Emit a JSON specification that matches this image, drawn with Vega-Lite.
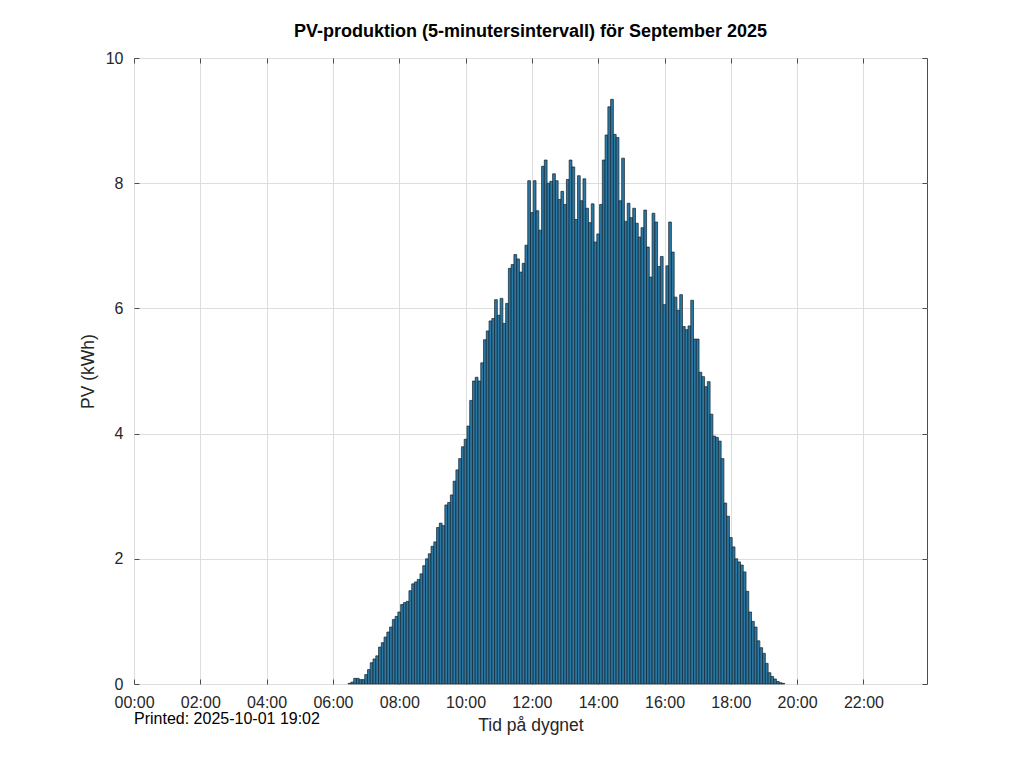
{
  "$schema": "https://vega.github.io/schema/vega-lite/v6.json",
  "width": 793,
  "height": 626,
  "autosize": "none",
  "padding": {"left": 134, "top": 58, "right": 97, "bottom": 84},
  "background": "white",
  "title": {
    "text": "PV-produktion (5-minutersintervall) för September 2025",
    "font": "Liberation Sans",
    "fontSize": 18,
    "fontWeight": "bold",
    "color": "#000000",
    "anchor": "middle",
    "baseline": "alphabetic",
    "offset": -5
  },
  "config": {
    "view": {"stroke": "#4d4d4d", "strokeWidth": 1},
    "font": "Liberation Sans",
    "axis": {
      "domain": false,
      "labelFont": "Liberation Sans",
      "labelFontSize": 16,
      "labelColor": "#262626",
      "titleFont": "Liberation Sans",
      "titleFontSize": 17.5,
      "titleFontWeight": "normal",
      "titleColor": "#262626",
      "tickColor": "#4d4d4d",
      "tickSize": -5,
      "gridColor": "#dedede",
      "gridWidth": 1
    }
  },
  "layer": [
    {
      "data": {
        "values": [
          {"min": 390, "pv": 0.01}, {"min": 395, "pv": 0.03}, {"min": 400, "pv": 0.09}, {"min": 405, "pv": 0.09},
          {"min": 410, "pv": 0.07}, {"min": 415, "pv": 0.07}, {"min": 420, "pv": 0.15}, {"min": 425, "pv": 0.23},
          {"min": 430, "pv": 0.34}, {"min": 435, "pv": 0.40}, {"min": 440, "pv": 0.45}, {"min": 445, "pv": 0.59},
          {"min": 450, "pv": 0.66}, {"min": 455, "pv": 0.75}, {"min": 460, "pv": 0.83}, {"min": 465, "pv": 0.91},
          {"min": 470, "pv": 1.03}, {"min": 475, "pv": 1.08}, {"min": 480, "pv": 1.15}, {"min": 485, "pv": 1.27},
          {"min": 490, "pv": 1.30}, {"min": 495, "pv": 1.32}, {"min": 500, "pv": 1.49}, {"min": 505, "pv": 1.60},
          {"min": 510, "pv": 1.63}, {"min": 515, "pv": 1.67}, {"min": 520, "pv": 1.76}, {"min": 525, "pv": 1.89},
          {"min": 530, "pv": 2.00}, {"min": 535, "pv": 2.08}, {"min": 540, "pv": 2.20}, {"min": 545, "pv": 2.27},
          {"min": 550, "pv": 2.50}, {"min": 555, "pv": 2.57}, {"min": 560, "pv": 2.53}, {"min": 565, "pv": 2.86},
          {"min": 570, "pv": 2.90}, {"min": 575, "pv": 3.02}, {"min": 580, "pv": 3.24}, {"min": 585, "pv": 3.42},
          {"min": 590, "pv": 3.60}, {"min": 595, "pv": 3.79}, {"min": 600, "pv": 3.91}, {"min": 605, "pv": 4.12},
          {"min": 610, "pv": 4.53}, {"min": 615, "pv": 4.84}, {"min": 620, "pv": 4.90}, {"min": 625, "pv": 4.84},
          {"min": 630, "pv": 5.13}, {"min": 635, "pv": 5.50}, {"min": 640, "pv": 5.64}, {"min": 645, "pv": 5.80},
          {"min": 650, "pv": 5.84}, {"min": 655, "pv": 6.14}, {"min": 660, "pv": 5.89}, {"min": 665, "pv": 6.16},
          {"min": 670, "pv": 5.76}, {"min": 675, "pv": 6.08}, {"min": 680, "pv": 6.64}, {"min": 685, "pv": 6.70},
          {"min": 690, "pv": 6.86}, {"min": 695, "pv": 6.79}, {"min": 700, "pv": 6.58}, {"min": 705, "pv": 6.72},
          {"min": 710, "pv": 7.01}, {"min": 715, "pv": 8.04}, {"min": 720, "pv": 7.53}, {"min": 725, "pv": 8.04},
          {"min": 730, "pv": 7.56}, {"min": 735, "pv": 7.25}, {"min": 740, "pv": 8.27}, {"min": 745, "pv": 8.37},
          {"min": 750, "pv": 8.00}, {"min": 755, "pv": 8.03}, {"min": 760, "pv": 8.15}, {"min": 765, "pv": 8.04},
          {"min": 770, "pv": 7.74}, {"min": 775, "pv": 7.87}, {"min": 780, "pv": 7.66}, {"min": 785, "pv": 8.06},
          {"min": 790, "pv": 8.37}, {"min": 795, "pv": 8.26}, {"min": 800, "pv": 7.42}, {"min": 805, "pv": 8.12},
          {"min": 810, "pv": 7.72}, {"min": 815, "pv": 8.07}, {"min": 820, "pv": 7.60}, {"min": 825, "pv": 7.37},
          {"min": 830, "pv": 7.67}, {"min": 835, "pv": 7.06}, {"min": 840, "pv": 7.19}, {"min": 845, "pv": 7.66},
          {"min": 850, "pv": 8.37}, {"min": 855, "pv": 8.77}, {"min": 860, "pv": 9.22}, {"min": 865, "pv": 9.34},
          {"min": 870, "pv": 8.78}, {"min": 875, "pv": 8.73}, {"min": 880, "pv": 7.72}, {"min": 885, "pv": 8.40},
          {"min": 890, "pv": 7.39}, {"min": 895, "pv": 7.68}, {"min": 900, "pv": 7.45}, {"min": 905, "pv": 7.60},
          {"min": 910, "pv": 7.36}, {"min": 915, "pv": 7.14}, {"min": 920, "pv": 7.29}, {"min": 925, "pv": 7.57},
          {"min": 930, "pv": 6.98}, {"min": 935, "pv": 6.50}, {"min": 940, "pv": 7.52}, {"min": 945, "pv": 7.38},
          {"min": 950, "pv": 6.67}, {"min": 955, "pv": 6.83}, {"min": 960, "pv": 6.06}, {"min": 965, "pv": 6.68},
          {"min": 970, "pv": 7.38}, {"min": 975, "pv": 6.90}, {"min": 980, "pv": 6.18}, {"min": 985, "pv": 5.97},
          {"min": 990, "pv": 6.22}, {"min": 995, "pv": 5.71}, {"min": 1000, "pv": 5.66}, {"min": 1005, "pv": 5.72},
          {"min": 1010, "pv": 6.13}, {"min": 1015, "pv": 5.51}, {"min": 1020, "pv": 5.51}, {"min": 1025, "pv": 4.98},
          {"min": 1030, "pv": 4.91}, {"min": 1035, "pv": 4.75}, {"min": 1040, "pv": 4.83}, {"min": 1045, "pv": 4.31},
          {"min": 1050, "pv": 3.96}, {"min": 1055, "pv": 3.94}, {"min": 1060, "pv": 3.88}, {"min": 1065, "pv": 3.60},
          {"min": 1070, "pv": 2.89}, {"min": 1075, "pv": 2.68}, {"min": 1080, "pv": 2.34}, {"min": 1085, "pv": 2.19},
          {"min": 1090, "pv": 2.00}, {"min": 1095, "pv": 1.95}, {"min": 1100, "pv": 1.90}, {"min": 1105, "pv": 1.79},
          {"min": 1110, "pv": 1.48}, {"min": 1115, "pv": 1.15}, {"min": 1120, "pv": 1.00}, {"min": 1125, "pv": 0.91},
          {"min": 1130, "pv": 0.69}, {"min": 1135, "pv": 0.58}, {"min": 1140, "pv": 0.49}, {"min": 1145, "pv": 0.33},
          {"min": 1150, "pv": 0.18}, {"min": 1155, "pv": 0.12}, {"min": 1160, "pv": 0.08}, {"min": 1165, "pv": 0.04},
          {"min": 1170, "pv": 0.02}, {"min": 1175, "pv": 0.01}
        ]
      },
      "mark": {"type": "bar", "size": 2.76, "fill": "#2a78a4", "stroke": "#14222c", "strokeWidth": 0.7},
      "encoding": {
        "x": {
          "field": "min",
          "type": "quantitative",
          "scale": {"domain": [0, 1435], "nice": false, "zero": false, "padding": 0},
          "axis": {
            "orient": "bottom",
            "title": "Tid på dygnet",
            "values": [0, 120, 240, 360, 480, 600, 720, 840, 960, 1080, 1200, 1320],
            "labelExpr": "(floor(datum.value / 60) < 10 ? '0' : '') + floor(datum.value / 60) + ':00'",
            "labelFlush": false,
            "labelPadding": 15,
            "titlePadding": 6,
            "grid": true
          }
        },
        "y": {
          "field": "pv",
          "type": "quantitative",
          "scale": {"domain": [0, 10], "nice": false},
          "axis": {
            "orient": "left",
            "title": "PV (kWh)",
            "values": [0, 2, 4, 6, 8, 10],
            "labelPadding": 16,
            "titlePadding": 8,
            "grid": true
          }
        }
      }
    },
    {
      "data": {"values": [{"note": "Printed: 2025-10-01 19:02"}]},
      "mark": {"type": "text", "align": "left", "baseline": "middle", "fontSize": 16, "color": "#000000", "clip": false},
      "encoding": {
        "x": {
          "datum": 0,
          "type": "quantitative",
          "scale": {"domain": [0, 1435], "nice": false, "zero": false, "padding": 0},
          "axis": {
            "orient": "top",
            "title": null,
            "labels": false,
            "grid": false,
            "values": [0, 120, 240, 360, 480, 600, 720, 840, 960, 1080, 1200, 1320]
          }
        },
        "y": {
          "datum": -0.56,
          "type": "quantitative",
          "scale": {"domain": [0, 10], "nice": false},
          "axis": {
            "orient": "right",
            "title": null,
            "labels": false,
            "grid": false,
            "values": [0, 2, 4, 6, 8, 10]
          }
        },
        "text": {"field": "note"}
      }
    }
  ],
  "resolve": {"axis": {"x": "independent", "y": "independent"}}
}
